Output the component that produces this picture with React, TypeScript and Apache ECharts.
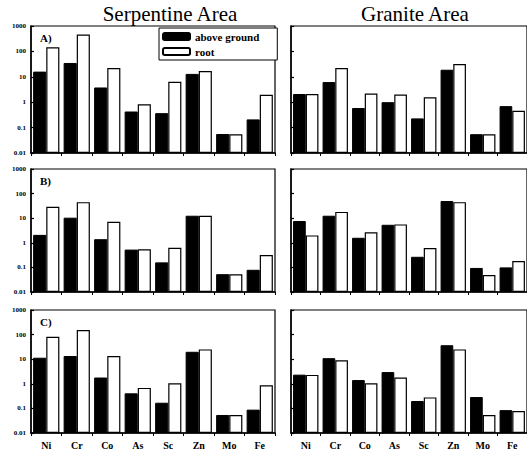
import React, { useEffect, useRef } from 'react';
import * as echarts from 'echarts';

const categories = ['Ni', 'Cr', 'Co', 'As', 'Sc', 'Zn', 'Mo', 'Fe'];
const yTickLabels = ['0.01', '0.1', '1', '10', '100', '1000'];
const seriesNames = ['above ground', 'root'];
const panelLabels = ['A)', 'B)', 'C)'];
const areaTitles = ['Serpentine Area', 'Granite Area'];

const serpA_above = [16, 35, 3.8, 0.43, 0.37, 13, 0.056, 0.21];
const serpA_root = [145, 460, 22, 0.83, 6.4, 17, 0.055, 1.95];
const granA_above = [2.1, 6.2, 0.59, 1.0, 0.23, 19, 0.055, 0.7];
const granA_root = [2.1, 22, 2.2, 2.0, 1.55, 32, 0.055, 0.46];
const serpB_above = [2.1, 10.5, 1.4, 0.53, 0.16, 12.6, 0.053, 0.08];
const serpB_root = [29, 45, 7.2, 0.55, 0.63, 12.6, 0.053, 0.32];
const granB_above = [7.7, 12.6, 1.6, 5.4, 0.27, 50, 0.095, 0.1];
const granB_root = [2.0, 18, 2.7, 5.6, 0.61, 45, 0.049, 0.18];
const serpC_above = [11.5, 13.5, 1.8, 0.41, 0.17, 20, 0.054, 0.089];
const serpC_root = [82, 153, 13.5, 0.68, 1.05, 25, 0.054, 0.87];
const granC_above = [2.35, 11, 1.42, 3.0, 0.2, 37, 0.29, 0.085];
const granC_root = [2.3, 9, 1.05, 1.8, 0.28, 25, 0.054, 0.078];

const panels = [
  [serpA_above, serpA_root],
  [granA_above, granA_root],
  [serpB_above, serpB_root],
  [granB_above, granB_root],
  [serpC_above, serpC_root],
  [granC_above, granC_root],
];

const FONT = '"Liberation Serif", "Times New Roman", serif';

export default function App() {
  const ref = useRef<HTMLDivElement>(null);
  useEffect(() => {
    document.body.style.margin = '0';
    if (!ref.current) return;
    const chart = echarts.init(ref.current, undefined, { renderer: 'svg' });

    const colLeft = [31, 291];
    const colWidth = [244, 242];
    const rowTop = [26, 169, 310];
    const rowHeight = [127, 123, 123];

    const grids: any[] = [];
    const xAxes: any[] = [];
    const yAxes: any[] = [];
    const series: any[] = [];

    panels.forEach((pair, i) => {
      const row = Math.floor(i / 2);
      const col = i % 2;
      grids.push({
        left: colLeft[col],
        width: colWidth[col],
        top: rowTop[row],
        height: rowHeight[row],
        show: true,
        borderColor: '#000',
        borderWidth: 1.2,
        containLabel: false,
      });
      xAxes.push({
        type: 'category',
        gridIndex: i,
        data: categories,
        axisLine: { show: true, lineStyle: { color: '#000', width: 1.5 } },
        axisTick: { show: true, inside: false, length: 3, lineStyle: { color: '#000', width: 1 } },
        axisLabel: {
          show: row === 2,
          color: '#000',
          fontFamily: FONT,
          fontWeight: 'bold',
          fontSize: 10,
          margin: 7,
        },
        splitLine: { show: false },
      });
      yAxes.push({
        type: 'log',
        logBase: 10,
        gridIndex: i,
        min: 0.01,
        max: 1000,
        startValue: 0.01,
        splitNumber: 5,
        axisLine: { show: true, lineStyle: { color: '#000', width: 1.5 } },
        axisTick: { show: true, inside: true, length: 3, lineStyle: { color: '#000', width: 1.2 } },
        minorTick: { show: false },
        splitLine: { show: false },
        axisLabel: {
          show: col === 0,
          color: '#000',
          fontFamily: FONT,
          fontWeight: 'bold',
          fontSize: 7,
          margin: 5,
          formatter: (v: number) => yTickLabels[Math.round(Math.log10(v)) + 2],
        },
      });
      pair.forEach((values, s) => {
        series.push({
          type: 'bar',
          name: seriesNames[s],
          xAxisIndex: i,
          yAxisIndex: i,
          data: values,
          barGap: '0%',
          barCategoryGap: '14%',
          itemStyle:
            s === 0
              ? { color: '#000', borderColor: '#000', borderWidth: 1 }
              : { color: '#fff', borderColor: '#000', borderWidth: 1.2 },
        });
      });
    });

    const graphics: any[] = [];
    areaTitles.forEach((t, c) => {
      graphics.push({
        type: 'text',
        x: c === 0 ? 170 : 415,
        y: 14,
        style: {
          text: t,
          font: `21px ${FONT}`,
          fill: '#000',
          align: 'center',
          verticalAlign: 'middle',
          textAlign: 'center',
          textVerticalAlign: 'middle',
        },
      });
    });
    panelLabels.forEach((t, r) => {
      graphics.push({
        type: 'text',
        x: 40,
        y: rowTop[r] + 6,
        style: {
          text: t,
          font: `bold 11px ${FONT}`,
          fill: '#000',
        },
      });
    });

    chart.setOption({
      animation: false,
      backgroundColor: '#fff',
      grid: grids,
      xAxis: xAxes,
      yAxis: yAxes,
      series,
      legend: {
        data: seriesNames,
        orient: 'vertical',
        left: 159,
        top: 28,
        itemWidth: 27,
        itemHeight: 7,
        itemGap: 4,
        borderColor: '#000',
        borderWidth: 1,
        padding: [3, 18, 3, 3],
        backgroundColor: '#fff',
        selectedMode: false,
        textStyle: { fontFamily: FONT, fontWeight: 'bold', fontSize: 11, color: '#000' },
      },
      graphic: graphics,
    });

    return () => chart.dispose();
  }, []);
  return <div ref={ref} style={{ width: 527, height: 453 }} />;
}
